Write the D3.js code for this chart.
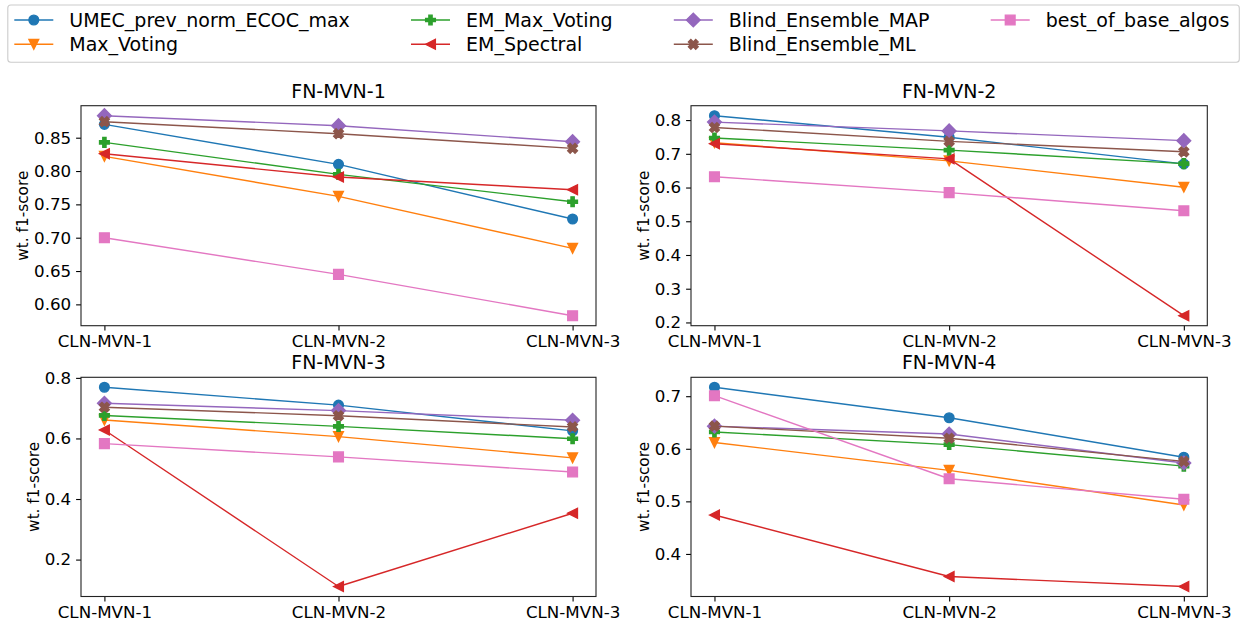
<!DOCTYPE html>
<html>
<head>
<meta charset="utf-8">
<script src="https://cdn.jsdelivr.net/npm/d3@7"></script>
<style>
  html, body { margin: 0; padding: 0; background: #fff; }
  svg { display: block; font-family: "DejaVu Sans", sans-serif; }
</style>
</head>
<body>
<svg id="chart" width="1245" height="621"></svg>
<script>
// ---- data ----
const categories = ["CLN-MVN-1", "CLN-MVN-2", "CLN-MVN-3"];
const seriesNames = [
  "UMEC_prev_norm_ECOC_max", "Max_Voting", "EM_Max_Voting", "EM_Spectral",
  "Blind_Ensemble_MAP", "Blind_Ensemble_ML", "best_of_base_algos"
];
const panelTitles = ["FN-MVN-1", "FN-MVN-2", "FN-MVN-3", "FN-MVN-4"];

// one row per series (same order as seriesNames), one column per category
const fnMvn1 = [
  [0.870, 0.810, 0.728],
  [0.822, 0.762, 0.684],
  [0.843, 0.795, 0.754],
  [0.826, 0.791, 0.772],
  [0.883, 0.868, 0.844],
  [0.874, 0.856, 0.834],
  [0.700, 0.645, 0.583]
];
const fnMvn2 = [
  [0.813, 0.749, 0.670],
  [0.733, 0.679, 0.601],
  [0.747, 0.711, 0.671],
  [0.730, 0.685, 0.220],
  [0.794, 0.768, 0.739],
  [0.778, 0.737, 0.706],
  [0.632, 0.585, 0.531]
];
const fnMvn3 = [
  [0.769, 0.710, 0.625],
  [0.661, 0.606, 0.536],
  [0.676, 0.640, 0.599],
  [0.628, 0.111, 0.353],
  [0.716, 0.692, 0.660],
  [0.703, 0.675, 0.638],
  [0.583, 0.539, 0.489]
];
const fnMvn4 = [
  [0.717, 0.659, 0.584],
  [0.612, 0.559, 0.493],
  [0.632, 0.608, 0.567],
  [0.474, 0.357, 0.338],
  [0.643, 0.628, 0.573],
  [0.643, 0.620, 0.576],
  [0.701, 0.543, 0.504]
];
const yTicks1 = [0.60, 0.65, 0.70, 0.75, 0.80, 0.85];
const yTicks2 = [0.2, 0.3, 0.4, 0.5, 0.6, 0.7, 0.8];
const yTicks3 = [0.2, 0.4, 0.6, 0.8];
const yTicks4 = [0.4, 0.5, 0.6, 0.7];
const yTickFormats = [".2f", ".1f", ".1f", ".1f"];
const yLabel = "wt. f1-score";

// ---- styles ----
const colors = ["#1f77b4", "#ff7f0e", "#2ca02c", "#d62728", "#9467bd", "#8c564b", "#e377c2"];
const markerKinds = ["circle", "triangleDown", "plus", "triangleLeft", "diamond", "xFilled", "square"];
const MS = 9.7;          // marker size (px)
const MEW = 1.4;         // marker edge width
const LW = 1.4;          // line width
const TICK_FONT = 16.7, LABEL_FONT = 15.3, TITLE_FONT = 19, LEGEND_FONT = 19;

// ---- marker shapes ----
function polyPath(pts, s) {
  return "M" + pts.map(p => (p[0] * s).toFixed(3) + "," + (p[1] * s).toFixed(3)).join("L") + "Z";
}
function markerPath(kind, s) {
  switch (kind) {
    case "circle": {
      const r = s / 2;
      return `M${r},0A${r},${r} 0 1,1 ${-r},0A${r},${r} 0 1,1 ${r},0Z`;
    }
    case "triangleDown": return polyPath([[0, 0.5], [-0.5, -0.5], [0.5, -0.5]], s);
    case "triangleLeft": return polyPath([[-0.5, 0], [0.5, -0.5], [0.5, 0.5]], s);
    case "square": return polyPath([[-0.5, -0.5], [0.5, -0.5], [0.5, 0.5], [-0.5, 0.5]], s);
    case "diamond": { const d = Math.SQRT1_2; return polyPath([[0, -d], [d, 0], [0, d], [-d, 0]], s); }
    case "plus": return polyPath([[-1, -3], [1, -3], [1, -1], [3, -1], [3, 1], [1, 1], [1, 3], [-1, 3], [-1, 1], [-3, 1], [-3, -1], [-1, -1]].map(p => [p[0] / 6, p[1] / 6]), s);
    case "xFilled": return polyPath([[-1, -2], [0, -1], [1, -2], [2, -1], [1, 0], [2, 1], [1, 2], [0, 1], [-1, 2], [-2, 1], [-1, 0], [-2, -1]].map(p => [p[0] / 4, p[1] / 4]), s);
  }
}

// ---- layout ----
const svg = d3.select("#chart");
const frames = [
  { x0: 81, x1: 596, y0: 105.7, y1: 325.7 },
  { x0: 691, x1: 1207.3, y0: 105.7, y1: 325.7 },
  { x0: 81, x1: 596, y0: 377.3, y1: 596.5 },
  { x0: 691, x1: 1207.3, y0: 377.3, y1: 596.5 }
];
const panelData = [fnMvn1, fnMvn2, fnMvn3, fnMvn4];
const panelTicks = [yTicks1, yTicks2, yTicks3, yTicks4];

panelData.forEach((data, pi) => {
  const f = frames[pi];
  const g = svg.append("g");

  const x = d3.scalePoint().domain(categories).range([f.x0, f.x1]).padding(0.1);
  const all = data.flat();
  const lo = d3.min(all), hi = d3.max(all), pad = (hi - lo) * 0.05;
  const y = d3.scaleLinear().domain([lo - pad, hi + pad]).range([f.y1, f.y0]);

  // axes
  const yAxis = g.append("g").attr("transform", `translate(${f.x0},0)`)
    .call(d3.axisLeft(y).tickValues(panelTicks[pi]).tickFormat(d3.format(yTickFormats[pi]))
      .tickSize(4.9).tickPadding(4.9));
  const xAxis = g.append("g").attr("transform", `translate(0,${f.y1})`)
    .call(d3.axisBottom(x).tickSize(4.9).tickPadding(4.9));
  [yAxis, xAxis].forEach(a => {
    a.select(".domain").remove();
    a.selectAll(".tick line").attr("stroke", "#000").attr("stroke-width", 1.1);
    a.selectAll(".tick text").attr("fill", "#000").style("font-size", TICK_FONT + "px")
      .style("font-family", "DejaVu Sans");
  });

  // series: line then markers, drawn in legend order
  const line = d3.line().x((d, i) => x(categories[i])).y(d => y(d));
  data.forEach((vals, si) => {
    g.append("path").attr("d", line(vals)).attr("fill", "none")
      .attr("stroke", colors[si]).attr("stroke-width", LW).attr("stroke-linejoin", "round");
    g.selectAll(null).data(vals).enter().append("path")
      .attr("transform", (d, i) => `translate(${x(categories[i])},${y(d)})`)
      .attr("d", markerPath(markerKinds[si], MS))
      .attr("fill", colors[si]).attr("stroke", colors[si]).attr("stroke-width", MEW)
      .attr("stroke-linejoin", "miter");
  });

  // frame
  g.append("rect").attr("x", f.x0).attr("y", f.y0)
    .attr("width", f.x1 - f.x0).attr("height", f.y1 - f.y0)
    .attr("fill", "none").attr("stroke", "#222").attr("stroke-width", 1.1);

  // title
  g.append("text").attr("x", (f.x0 + f.x1) / 2).attr("y", f.y0 - 8)
    .attr("text-anchor", "middle").style("font-size", TITLE_FONT + "px").attr("fill", "#000")
    .text(panelTitles[pi]);

  // y label, placed left of the tick labels
  const bb = yAxis.node().getBBox();
  const lx = f.x0 + bb.x - 5.6;
  g.append("text")
    .attr("transform", `translate(${lx},${(f.y0 + f.y1) / 2}) rotate(-90)`)
    .attr("text-anchor", "middle").style("font-size", LABEL_FONT + "px").attr("fill", "#000")
    .text(yLabel);
});

// ---- legend ----
const legend = svg.append("g");
legend.append("rect").attr("x", 7.8).attr("y", 5).attr("width", 1239.3 - 7.8).attr("height", 62.3 - 5)
  .attr("rx", 3).attr("fill", "#fff").attr("fill-opacity", 0.8)
  .attr("stroke", "#cccccc").attr("stroke-width", 1.1);
const colX = [14.3, 411, 673.8, 990.7];
const rowY = [20, 44.3];
const handleLen = 39, textGap = 16;
seriesNames.forEach((name, si) => {
  const c = Math.floor(si / 2), r = si % 2;
  const hx = colX[c], hy = rowY[r];
  const eg = legend.append("g");
  eg.append("line").attr("x1", hx).attr("x2", hx + handleLen).attr("y1", hy).attr("y2", hy)
    .attr("stroke", colors[si]).attr("stroke-width", LW);
  eg.append("path").attr("transform", `translate(${hx + handleLen / 2},${hy})`)
    .attr("d", markerPath(markerKinds[si], MS))
    .attr("fill", colors[si]).attr("stroke", colors[si]).attr("stroke-width", MEW);
  eg.append("text").attr("x", hx + handleLen + textGap).attr("y", hy + 6.6)
    .style("font-size", LEGEND_FONT + "px").attr("fill", "#000").text(name);
});
</script>
</body>
</html>
